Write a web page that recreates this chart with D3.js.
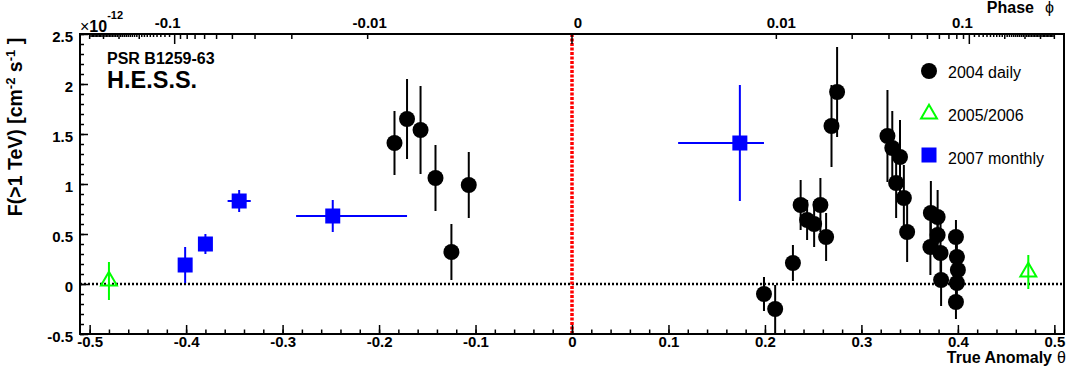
<!DOCTYPE html>
<html>
<head>
<meta charset="utf-8">
<script src="https://cdn.jsdelivr.net/npm/d3@7"></script>
<style>
  body { margin: 0; background: #fff; }
  svg { display: block; font-family: "Liberation Sans", Arial, Helvetica, sans-serif; }
  .lbl { font-weight: bold; fill: #000; }
</style>
</head>
<body>
<script>
// data (true anomaly theta in cycles, flux in 1e-12 cm^-2 s^-1)
var daily2004Theta = [-0.184, -0.171, -0.157, -0.1415, -0.125, -0.107,
  0.199, 0.2106, 0.229, 0.237, 0.2437, 0.251, 0.2575, 0.2634, 0.269, 0.2748,
  0.327, 0.332, 0.340, 0.336, 0.344, 0.3474,
  0.372, 0.379, 0.3715, 0.379, 0.382, 0.3826,
  0.398, 0.399, 0.400, 0.399, 0.398];
var daily2004Flux = [1.41, 1.65, 1.54, 1.06, 0.32, 0.99,
  -0.10, -0.25, 0.21, 0.79, 0.64, 0.60, 0.79, 0.47, 1.58, 1.92,
  1.48, 1.36, 1.27, 1.01, 0.86, 0.52,
  0.71, 0.67, 0.37, 0.49, 0.31, 0.04,
  0.47, 0.27, 0.14, 0.01, -0.18];
var daily2004Err = [0.32, 0.40, 0.44, 0.33, 0.28, 0.33,
  0.17, 0.24, 0.18, 0.25, 0.20, 0.23, 0.27, 0.24, 0.41, 0.45,
  0.46, 0.37, 0.37, 0.35, 0.33, 0.30,
  0.32, 0.27, 0.28, 0.25, 0.30, 0.26,
  0.17, 0.20, 0.20, 0.20, 0.17];

var y0506Theta = [-0.480, 0.473];
var y0506Flux = [0.03, 0.12];
var y0506Err = [0.19, 0.17];

var monthly2007Theta = [-0.401, -0.380, -0.345, -0.248, 0.174];
var monthly2007Flux = [0.19, 0.40, 0.83, 0.68, 1.41];
var monthly2007Err = [0.18, 0.10, 0.11, 0.16, 0.58];
var monthly2007ThetaLo = [0, 0, 0.012, 0.038, 0.064];
var monthly2007ThetaHi = [0, 0, 0.012, 0.077, 0.025];

var yTicks = [-0.5, 0, 0.5, 1, 1.5, 2, 2.5];
var yTickLabels = ["-0.5", "0", "0.5", "1", "1.5", "2", "2.5"];
var xTicks = [-0.5, -0.4, -0.3, -0.2, -0.1, 0, 0.1, 0.2, 0.3, 0.4, 0.5];
var xTickLabels = ["-0.5", "-0.4", "-0.3", "-0.2", "-0.1", "0", "0.1", "0.2", "0.3", "0.4", "0.5"];
var phaseTicks = [-0.1, -0.01, 0, 0.01, 0.1];
var phaseTickLabels = ["-0.1", "-0.01", "0", "0.01", "0.1"];
var legendNames = ["2004 daily", "2005/2006", "2007 monthly"];

// small nudges of the phase labels, like root puts them
var phaseLabelDx = [-7, 2, 6, 5, -7];

var ecc = 0.87;

// phase -> true anomaly (cycles), Kepler's equation
function phaseToTheta(phi) {
  var M = 2 * Math.PI * phi, E = M / (1 - ecc) * 0.5;
  if (Math.abs(E) > 3) E = Math.sign(M) * 3;
  for (var i = 0; i < 200; i++) {
    E = E - (E - ecc * Math.sin(E) - M) / (1 - ecc * Math.cos(E));
  }
  var th = 2 * Math.atan(Math.sqrt((1 + ecc) / (1 - ecc)) * Math.tan(E / 2));
  return th / (2 * Math.PI);
}

var W = 1067, H = 373;
var mLeft = 80, mRight = 1064, mTop = 34, mBottom = 334;

var svg = d3.select('body').append('svg')
  .attr('width', W)
  .attr('height', H);

var x = d3.scaleLinear().domain([-0.51, 0.51]).range([mLeft, mRight]);
var y = d3.scaleLinear().domain([-0.5, 2.5]).range([mBottom, mTop]);

// zero lines
svg.append('line')
  .attr('x1', mLeft).attr('x2', mRight)
  .attr('y1', y(0)).attr('y2', y(0))
  .attr('stroke', '#000').attr('stroke-width', 2.5)
  .attr('stroke-dasharray', '2,2');
svg.append('line')
  .attr('x1', x(0)).attr('x2', x(0))
  .attr('y1', mTop).attr('y2', mBottom)
  .attr('stroke', '#f00').attr('stroke-width', 3.5)
  .attr('stroke-dasharray', '3,1.5');

// axes
var gy = svg.append('g').attr('transform', 'translate(' + mLeft + ',0)');
gy.call(d3.axisLeft(y).tickValues(d3.range(-5, 26).map(d => d / 10)).tickSize(-4).tickFormat(''));
gy.select('.domain').remove();
var gy2 = svg.append('g').attr('transform', 'translate(' + mLeft + ',0)')
  .call(d3.axisLeft(y).tickValues(yTicks).tickSize(-8).tickPadding(7)
    .tickFormat((d, i) => yTickLabels[i]));
gy2.select('.domain').remove();
gy2.attr('font-family', null).attr('font-size', null);
gy2.selectAll('text').attr('class', 'lbl').style('font-size', '15px').attr('dy', '0.5em');

var gx = svg.append('g').attr('transform', 'translate(0,' + mBottom + ')');
gx.call(d3.axisBottom(x).tickValues(d3.range(-25, 26).map(d => d / 50)).tickSize(-4.5).tickFormat(''));
gx.select('.domain').remove();
var gx2 = svg.append('g').attr('transform', 'translate(0,' + mBottom + ')')
  .call(d3.axisBottom(x).tickValues(xTicks).tickSize(-9).tickPadding(2.5)
    .tickFormat((d, i) => xTickLabels[i]));
gx2.select('.domain').remove();
gx2.attr('font-family', null).attr('font-size', null);
gx2.selectAll('text').attr('class', 'lbl').style('font-size', '15px');
svg.selectAll('.tick line').attr('stroke-width', 1.5);

// top phase axis
var phaseMinor = [];
d3.range(1, 51).forEach(k => {
  var len = k === 10 ? 10 : (k < 10 || k % 10 === 0 ? 5 : 3);
  phaseMinor.push({phi: k / 100, len: len});
  phaseMinor.push({phi: -k / 100, len: len});
});
phaseMinor.push({phi: 0, len: 10});
svg.append('g').selectAll('line')
  .data(phaseMinor)
  .join('line')
    .attr('x1', d => x(phaseToTheta(d.phi)))
    .attr('x2', d => x(phaseToTheta(d.phi)))
    .attr('y1', mTop).attr('y2', d => mTop + d.len)
    .attr('stroke', '#000').attr('stroke-width', 1.5);
svg.append('g').selectAll('text')
  .data(phaseTicks)
  .join('text')
    .attr('class', 'lbl')
    .style('font-size', '15px')
    .attr('x', (d, i) => x(phaseToTheta(d)) + phaseLabelDx[i])
    .attr('y', 28)
    .attr('text-anchor', 'middle')
    .text((d, i) => phaseTickLabels[i]);

// frame
svg.append('rect')
  .attr('x', mLeft).attr('y', mTop)
  .attr('width', mRight - mLeft).attr('height', mBottom - mTop)
  .attr('fill', 'none').attr('stroke', '#000').attr('stroke-width', 2);

// axis titles
svg.append('text').attr('class', 'lbl').style('font-size', '16px')
  .attr('x', 1052).attr('y', 363).attr('text-anchor', 'end').text('True Anomaly');
svg.append('text').attr('x', 1057).attr('y', 363).style('font-size', '16px').text('θ');
svg.append('text').attr('class', 'lbl').style('font-size', '16px')
  .attr('x', 1034).attr('y', 13).attr('text-anchor', 'end').text('Phase');
svg.append('text').attr('x', 1045).attr('y', 13).style('font-size', '16px').text('ϕ');

var yt = svg.append('text').attr('class', 'lbl').style('font-size', '19.5px')
  .attr('transform', 'translate(22,127) rotate(-90)')
  .attr('text-anchor', 'middle');
yt.append('tspan').text('F(>1 TeV) [cm');
yt.append('tspan').attr('dy', -7).style('font-size', '13px').text('-2');
yt.append('tspan').attr('dy', 7).text(' s');
yt.append('tspan').attr('dy', -7).style('font-size', '13px').text('-1');
yt.append('tspan').attr('dy', 7).text(' ]');

var ex = svg.append('text').attr('class', 'lbl').style('font-size', '16px').attr('x', 80).attr('y', 32);
ex.append('tspan').style('font-weight', 'normal').text('×');
ex.append('tspan').text('10');
ex.append('tspan').attr('dy', -13).style('font-size', '11px').text('-12');

svg.append('text').attr('class', 'lbl').style('font-size', '16px').attr('x', 107).attr('y', 64).text('PSR B1259-63');
svg.append('text').attr('class', 'lbl').style('font-size', '23.5px').attr('x', 107).attr('y', 88).text('H.E.S.S.');

// 2004 daily
var daily = daily2004Theta.map((t, i) => ({t: t, f: daily2004Flux[i], e: daily2004Err[i]}));
var gd = svg.append('g');
gd.selectAll('line')
  .data(daily)
  .join('line')
    .attr('x1', d => x(d.t)).attr('x2', d => x(d.t))
    .attr('y1', d => y(d.f + d.e)).attr('y2', d => y(Math.max(d.f - d.e, -0.5)))
    .attr('stroke', '#000').attr('stroke-width', 2);
gd.selectAll('circle')
  .data(daily)
  .join('circle')
    .attr('cx', d => x(d.t)).attr('cy', d => y(d.f))
    .attr('r', 8).attr('fill', '#000');

// 2007 monthly
var monthly = monthly2007Theta.map((t, i) => ({t: t, f: monthly2007Flux[i], e: monthly2007Err[i],
  lo: monthly2007ThetaLo[i], hi: monthly2007ThetaHi[i]}));
var gm = svg.append('g');
gm.selectAll('line.v')
  .data(monthly)
  .join('line')
    .attr('class', 'v')
    .attr('x1', d => x(d.t)).attr('x2', d => x(d.t))
    .attr('y1', d => y(d.f + d.e)).attr('y2', d => y(d.f - d.e))
    .attr('stroke', '#00f').attr('stroke-width', 2);
gm.selectAll('line.h')
  .data(monthly.filter(d => d.lo > 0))
  .join('line')
    .attr('class', 'h')
    .attr('x1', d => x(d.t - d.lo)).attr('x2', d => x(d.t + d.hi))
    .attr('y1', d => y(d.f)).attr('y2', d => y(d.f))
    .attr('stroke', '#00f').attr('stroke-width', 2);
gm.selectAll('rect')
  .data(monthly)
  .join('rect')
    .attr('x', d => x(d.t) - 7.5).attr('y', d => y(d.f) - 7.5)
    .attr('width', 15).attr('height', 15)
    .attr('fill', '#00f');

// 2005/2006
var y0506 = y0506Theta.map((t, i) => ({t: t, f: y0506Flux[i], e: y0506Err[i]}));
var tri = d3.symbol().type(d3.symbolTriangle).size(110);
var gg = svg.append('g');
gg.selectAll('line')
  .data(y0506)
  .join('line')
    .attr('x1', d => x(d.t)).attr('x2', d => x(d.t))
    .attr('y1', d => y(d.f + d.e)).attr('y2', d => y(d.f - d.e))
    .attr('stroke', '#0f0').attr('stroke-width', 2);
gg.selectAll('path')
  .data(y0506)
  .join('path')
    .attr('d', tri)
    .attr('transform', d => 'translate(' + x(d.t) + ',' + y(d.f) + ')')
    .attr('fill', 'none').attr('stroke', '#0f0').attr('stroke-width', 2);

// legend
var leg = svg.append('g').attr('transform', 'translate(929,0)');
leg.append('circle').attr('cx', 0).attr('cy', 71).attr('r', 8).attr('fill', '#000');
leg.append('path').attr('d', tri).attr('transform', 'translate(0,114)')
  .attr('fill', 'none').attr('stroke', '#0f0').attr('stroke-width', 2);
leg.append('rect').attr('x', -7.5).attr('y', 147.5).attr('width', 15).attr('height', 15).attr('fill', '#00f');
leg.selectAll('text')
  .data(legendNames)
  .join('text')
    .attr('x', 19)
    .attr('y', (d, i) => 78 + i * 43)
    .style('font-size', '16px')
    .text(d => d);
</script>
</body>
</html>
